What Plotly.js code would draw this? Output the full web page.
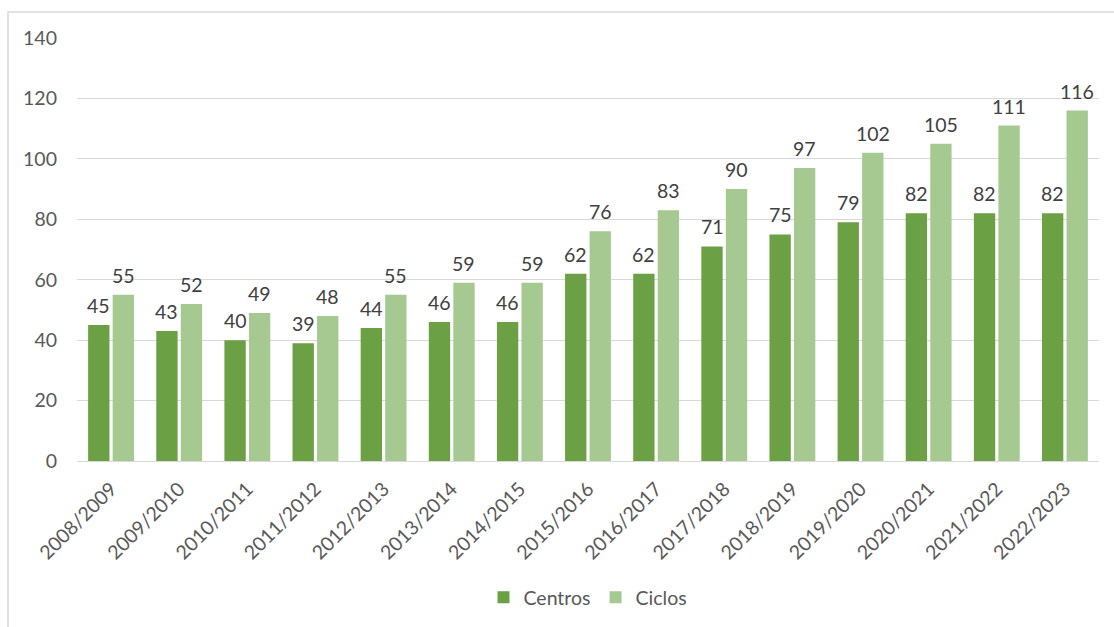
<!DOCTYPE html>
<html>
<head>
<meta charset="utf-8">
<script src="https://cdn.plot.ly/plotly-3.0.1.min.js"></script>
<style>
html,body{margin:0;padding:0;background:#fff;}
#chart{width:1114px;height:627px;}
</style>
</head>
<body>
<div id="chart"></div>
<script>
const categories = ["2008/2009","2009/2010","2010/2011","2011/2012","2012/2013","2013/2014","2014/2015","2015/2016","2016/2017","2017/2018","2018/2019","2019/2020","2020/2021","2021/2022","2022/2023"];
const centros = [45,43,40,39,44,46,46,62,62,71,75,79,82,82,82];
const ciclos = [55,52,49,48,55,59,59,76,83,90,97,102,105,111,116];
const yTicks = [0,20,40,60,80,100,120,140];

const font = "Lato, 'Open Sans', sans-serif";
const FS = 19.5;
const plotW = 1022;
const bargap = 0.28;
const slot = plotW / categories.length * (1 - bargap) / 2;

const traces = [
  {type:'bar', name:'Centros', x:categories, y:centros, marker:{color:'#6ba044'}},
  {type:'bar', name:'Ciclos', x:categories, y:ciclos, marker:{color:'#a6c991'}}
];
const annotations = [];
[[centros, -slot/2], [ciclos, slot/2]].forEach(([vals, dx]) => {
  vals.forEach((v, i) => annotations.push({
    x: categories[i], y: v, xref:'x', yref:'y', text: String(v), showarrow:false,
    xanchor:'center', yanchor:'bottom', xshift: dx, yshift: 6,
    font:{family:font, size:FS, color:'#404040'}
  }));
});
const layout = {
  width:1114, height:627,
  margin:{l:77, r:15, t:38, b:166, autoexpand:false},
  paper_bgcolor:'#fff', plot_bgcolor:'#fff',
  barmode:'group', bargap:bargap, bargroupgap:0.13,
  font:{family:font, color:'#595959', size:FS},
  showlegend:true,
  legend:{orientation:'h', x:0.5, xanchor:'center', yref:'container', y:0.078, yanchor:'top',
          itemwidth:30, font:{family:font, size:FS, color:'#595959'}, traceorder:'normal'},
  xaxis:{type:'category', tickangle:-45, showgrid:false, showline:true, linecolor:'#d9d9d9', linewidth:1,
         ticks:'', ticklabelstandoff:8, tickfont:{family:font, size:FS, color:'#595959'}, automargin:false},
  yaxis:{range:[0,140], tickvals:yTicks, ticktext:yTicks.map(String), showgrid:true, gridcolor:'#d9d9d9', gridwidth:1,
         zeroline:true, zerolinecolor:'#d9d9d9', showline:false, ticks:'', ticklabelstandoff:19,
         tickfont:{family:font, size:FS, color:'#595959'}, automargin:false},
  annotations: annotations,
  shapes:[{type:'rect', xref:'paper', yref:'paper', x0:(8-77)/1022, x1:(1125-77)/1022,
           y0:(461-640)/423, y1:(461-12)/423, line:{color:'#d9d9d9', width:1.5}, fillcolor:'rgba(0,0,0,0)', layer:'below'}]
};
Plotly.newPlot('chart', traces, layout, {displayModeBar:false, staticPlot:true});
</script>
</body>
</html>
